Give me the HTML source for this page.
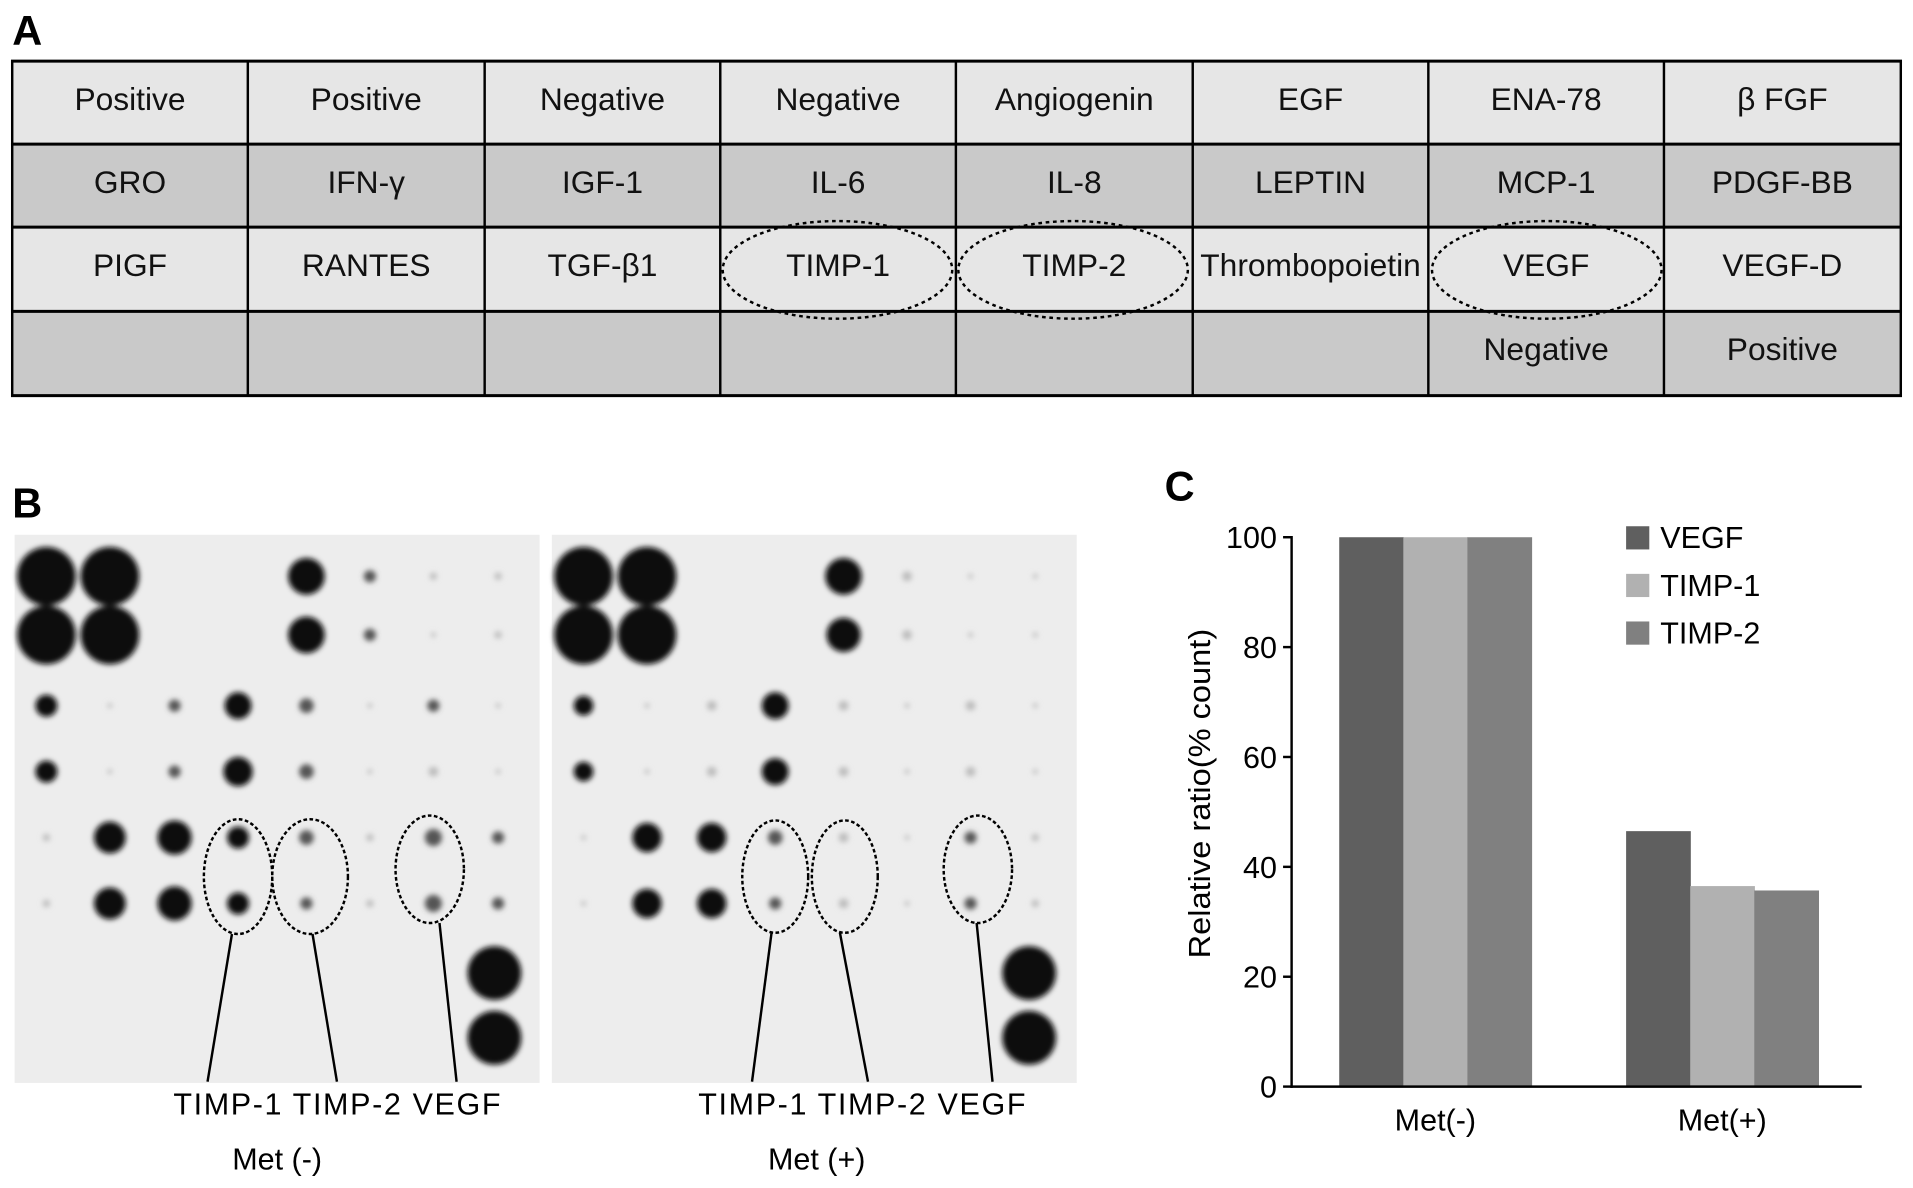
<!DOCTYPE html>
<html><head><meta charset="utf-8"><style>
html,body{margin:0;padding:0;background:#fff;}
svg{display:block;font-family:"Liberation Sans",Arial,sans-serif;}
</style></head><body>
<svg id="fig" width="1913" height="1188" viewBox="0 0 1567 973" xmlns="http://www.w3.org/2000/svg">
<defs>
<filter id="blur" x="-50%" y="-50%" width="200%" height="200%"><feGaussianBlur stdDeviation="2.2"/></filter>
</defs>
<text x="10" y="37" font-size="34" font-weight="bold">A</text>
<g id="tableA"></g>
<text x="10" y="424" font-size="34" font-weight="bold">B</text>
<g id="blots"></g>
<text x="954" y="410" font-size="34" font-weight="bold">C</text>
<g id="chartC"></g>
</svg>
<script>
const NS='http://www.w3.org/2000/svg';
function mk(tag,attrs,parent,txt){const e=document.createElementNS(NS,tag);for(const k in attrs)e.setAttribute(k,attrs[k]);if(txt!==undefined)e.textContent=txt;parent.appendChild(e);return e;}

// ---------- Panel A table ----------
const tableRows=[
 ['Positive','Positive','Negative','Negative','Angiogenin','EGF','ENA-78','β FGF'],
 ['GRO','IFN-γ','IGF-1','IL-6','IL-8','LEPTIN','MCP-1','PDGF-BB'],
 ['PIGF','RANTES','TGF-β1','TIMP-1','TIMP-2','Thrombopoietin','VEGF','VEGF-D'],
 ['','','','','','','Negative','Positive']];
const T=document.getElementById('tableA');
const colX=[10,203,397,590,783,977,1170,1363,1557];
const rowY=[50,118,186,255,324];
for(let r=0;r<4;r++){
  for(let c=0;c<8;c++){
    const cell=mk('rect',{x:colX[c],y:rowY[r],width:colX[c+1]-colX[c],height:rowY[r+1]-rowY[r],fill:r%2?'#c9c9c9':'#e6e6e6'},T);
    
    
    if(tableRows[r][c]){
      const t=mk('text',{x:(colX[c]+colX[c+1])/2,y:rowY[r]+40,'font-size':26,'text-anchor':'middle',fill:'#111'},T,tableRows[r][c]);
      
      
    }
  }
}
for(const x of colX) mk('line',{x1:x,x2:x,y1:50,y2:324,stroke:'#000','stroke-width':2},T);
for(const y of rowY) mk('line',{x1:9,x2:1558,y1:y,y2:y,stroke:'#000','stroke-width':2.5},T);
for(const cx of [686,879,1267]){
  const e=mk('ellipse',{cx:cx,cy:221,rx:94,ry:40,fill:'none',stroke:'#000','stroke-width':2,'stroke-dasharray':'3,3'},T);
  
  
}

// ---------- Panel B blots ----------
const spotCols=[38,90,143,195,251,303,355,408];
const spotRows=[472,520,578,632,686,740];
const spotsMinus=[
 [24,24,0,0,15,5,3,3],
 [24,24,0,0,15,5,2,3],
 [9,2,5,11,6,2,5,2],
 [9,2,5,12,6,2,4,2],
 [3,13,14,9,6,3,7,5],
 [3,13,14,9,5,3,7,5]];
const spotsPlus=[
 [24,24,0,0,15,4,2,2],
 [24,24,0,0,14,4,2,2],
 [8,2,4,11,4,2,4,2],
 [8,2,4,11,4,2,4,2],
 [2,12,12,6,4,2,5,3],
 [2,12,12,5,4,2,5,3]];
const B=document.getElementById('blots');
function blot(off,spots,corner){
  const g=mk('g',{},B);
  
  
  mk('rect',{x:12+off,y:438,width:430,height:449,fill:'#ededed'},g);
  const sg=mk('g',{filter:'url(#blur)'},g);
  for(let r=0;r<spotRows.length;r++)for(let c=0;c<spotCols.length;c++){
    const rad=spots[r][c]; if(!rad)continue;
    const s=mk('circle',{cx:spotCols[c]+off,cy:spotRows[r],r:rad,fill:rad>7?'#0a0a0a':(rad>4?'#555':'#bbb')},sg);
    
    
  }
  for(const cy of corner) mk('circle',{cx:405+off-(off?2:0),cy:cy,r:22,fill:'#0a0a0a'},sg);
}
blot(0,spotsMinus,[797,850]);
blot(440,spotsPlus,[797,850]);
const ells=[[195,718,28,47],[254,718,31,47],[352,712,28,44],[635,718,27,46],[692,718,27,46],[801,712,28,44]];
for(const e of ells){const el=mk('ellipse',{cx:e[0],cy:e[1],rx:e[2],ry:e[3],fill:'none',stroke:'#000','stroke-width':2,'stroke-dasharray':'3,2'},B);
  
  }
const lines=[[190,765,170,886],[256,765,276,886],[360,756,374,886],[632,764,616,886],[688,764,711,886],[800,756,813,886]];
for(const l of lines) mk('line',{x1:l[0],y1:l[1],x2:l[2],y2:l[3],stroke:'#000','stroke-width':2},B);
for(const o of [0,430]){
  const t=mk('text',{x:142+o,y:913,'font-size':25,textLength:268,lengthAdjust:'spacing'},B,'TIMP-1 TIMP-2 VEGF');
  
  
}
const m1=mk('text',{x:227,y:958,'font-size':25,'text-anchor':'middle'},B,'Met (-)');


const m2=mk('text',{x:669,y:958,'font-size':25,'text-anchor':'middle'},B,'Met (+)');



// ---------- Panel C chart ----------
const categories=['Met(-)','Met(+)'];
const seriesNames=['VEGF','TIMP-1','TIMP-2'];
const vegfValues=[100,46.5];
const timp1Values=[100,36.5];
const timp2Values=[100,35.7];
const yTicks=[0,20,40,60,80,100];
const seriesColors=['#5f5f5f','#b1b1b1','#808080'];
const C=document.getElementById('chartC');
const X0=1058,X1=1525,Y0=890,Y100=440;
const yScale=v=>Y0-(v/100)*(Y0-Y100);
const groupStart=[1097,1332], barW=52.5;
const allVals=[vegfValues,timp1Values,timp2Values];
for(let s=0;s<3;s++)for(let c=0;c<categories.length;c++){
  const v=allVals[s][c];
  const b=mk('rect',{x:groupStart[c]+s*barW,y:yScale(v),width:barW+0.5,height:Y0-yScale(v),fill:seriesColors[s]},C);
  
  
}
mk('line',{x1:X0,x2:X0,y1:Y100-1,y2:Y0+1,stroke:'#000','stroke-width':2},C);
mk('line',{x1:X0-1,x2:X1,y1:Y0,y2:Y0,stroke:'#000','stroke-width':2},C);
for(const t of yTicks){
  mk('line',{x1:X0-7,x2:X0,y1:yScale(t),y2:yScale(t),stroke:'#000','stroke-width':2},C);
  const tl=mk('text',{x:X0-12,y:yScale(t)+9,'font-size':25,'text-anchor':'end'},C,String(t));
  
  
}
const yt=mk('text',{x:0,y:0,'font-size':25,'text-anchor':'middle',textLength:270,lengthAdjust:'spacingAndGlyphs',transform:'translate(991,650) rotate(-90)'},C,'Relative ratio(% count)');


for(let c=0;c<categories.length;c++){
  const xl=mk('text',{x:groupStart[c]+1.5*barW,y:926,'font-size':25,'text-anchor':'middle'},C,categories[c]);
  
  
}
for(let s=0;s<3;s++){
  const ly=431+s*39;
  const sw=mk('rect',{x:1332,y:ly,width:19,height:19,fill:seriesColors[s]},C);
  
  
  const lt=mk('text',{x:1360,y:ly+18,'font-size':25},C,seriesNames[s]);
  
  
}
</script>
</body></html>
